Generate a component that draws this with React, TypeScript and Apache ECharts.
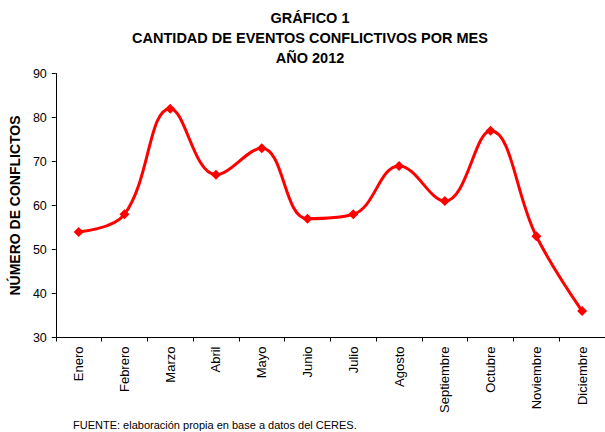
import React, { useEffect, useRef } from "react";
import * as echarts from "echarts";

const categories = ["Enero", "Febrero", "Marzo", "Abril", "Mayo", "Junio", "Julio", "Agosto", "Septiembre", "Octubre", "Noviembre", "Diciembre"];
const conflictos = [54, 58, 82, 67, 73, 57, 58, 69, 61, 77, 53, 36];
const titleLines = ["GRÁFICO 1", "CANTIDAD DE EVENTOS CONFLICTIVOS POR MES", "AÑO 2012"];
const yAxisName = "NÚMERO DE CONFLICTOS";
const sourceText = "FUENTE: elaboración propia en base a datos del CERES.";

const FONT = "'Liberation Sans', Arial, sans-serif";

export default function App() {
  const ref = useRef<HTMLDivElement>(null);
  useEffect(() => {
    if (!ref.current) return;
    const chart = echarts.init(ref.current, undefined, { renderer: "svg" });
    chart.setOption({
      animation: false,
      backgroundColor: "#ffffff",
      textStyle: { fontFamily: FONT },
      title: {
        text: titleLines.join("\n"),
        left: 305,
        textAlign: "center",
        top: 3,
        textStyle: { fontFamily: FONT, fontSize: 14.5, fontWeight: "bold", color: "#000", lineHeight: 20 },
      },
      graphic: [
        {
          type: "text",
          left: 73,
          top: 419,
          style: { text: sourceText, font: `11px ${FONT}`, fill: "#000" },
        },
      ],
      grid: { left: 55, right: -2, top: 73.5, bottom: 94.5, containLabel: false },
      xAxis: {
        type: "category",
        data: categories,
        boundaryGap: true,
        axisLine: { lineStyle: { color: "#000", width: 1 } },
        axisTick: { show: true, length: 4, lineStyle: { color: "#000" }, alignWithLabel: false },
        axisLabel: { rotate: 90, fontSize: 13, color: "#000", fontFamily: FONT, margin: 9, interval: 0 },
      },
      yAxis: {
        type: "value",
        min: 30,
        max: 90,
        interval: 10,
        name: yAxisName,
        nameLocation: "middle",
        nameGap: 28,
        nameTextStyle: { fontFamily: FONT, fontSize: 14, fontWeight: "bold", color: "#000" },
        axisLine: { show: true, lineStyle: { color: "#000", width: 1 } },
        axisTick: { show: true, length: 4, lineStyle: { color: "#000" } },
        axisLabel: { fontSize: 12.5, color: "#000", fontFamily: FONT, margin: 9 },
        splitLine: { show: false },
      },
      series: [
        {
          type: "line",
          data: conflictos,
          smooth: 0.4,
          symbol: "diamond",
          symbolSize: 10,
          lineStyle: { color: "#ff0000", width: 3 },
          itemStyle: { color: "#ff0000" },
        },
      ],
    });
    return () => chart.dispose();
  }, []);
  return <div ref={ref} style={{ width: 605, height: 432, position: "absolute", left: 0, top: 0 }} />;
}
